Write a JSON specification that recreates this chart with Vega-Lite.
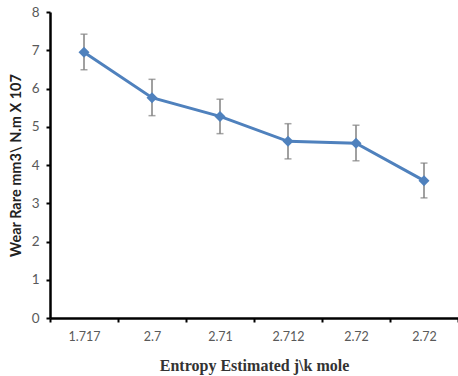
{
  "$schema": "https://vega.github.io/schema/vega-lite/v6.json",
  "autosize": {"type": "none"},
  "padding": {"left": 50, "top": 12, "right": 0, "bottom": 58},
  "width": 408,
  "height": 306,
  "background": "white",
  "config": {"view": {"stroke": null}},
  "data": {"values": [
    {"idx": 0, "entropy": "1.717", "wear": 6.95, "lo": 6.49, "hi": 7.42},
    {"idx": 1, "entropy": "2.7", "wear": 5.76, "lo": 5.29, "hi": 6.24},
    {"idx": 2, "entropy": "2.71", "wear": 5.27, "lo": 4.82, "hi": 5.72},
    {"idx": 3, "entropy": "2.712", "wear": 4.62, "lo": 4.16, "hi": 5.08},
    {"idx": 4, "entropy": "2.72", "wear": 4.57, "lo": 4.11, "hi": 5.04},
    {"idx": 5, "entropy": "2.72", "wear": 3.59, "lo": 3.14, "hi": 4.05}
  ]},
  "encoding": {
    "x": {
      "field": "idx", "type": "ordinal", "bandPosition": 0.5,
      "scale": {"type": "band", "paddingInner": 0, "paddingOuter": 0},
      "axis": {
        "title": "Entropy Estimated j\\k mole",
        "labelExpr": "['1.717','2.7','2.71','2.712','2.72','2.72'][datum.value]",
        "labelAngle": 0,
        "labelFont": "Lato", "labelFontSize": 12.5, "labelColor": "#595959",
        "labelPadding": 8,
        "tickBand": "extent", "tickColor": "black", "tickSize": 4, "tickWidth": 2,
        "domainColor": "black", "domainWidth": 2.5,
        "titleFont": "Liberation Serif", "titleFontWeight": "bold", "titleFontSize": 16, "titleColor": "#333333",
        "titlePadding": 15
      }
    },
    "y": {
      "field": "wear", "type": "quantitative",
      "scale": {"domain": [0, 8], "nice": false},
      "axis": {
        "title": "Wear Rare mm3\\ N.m X 107",
        "values": [0, 1, 2, 3, 4, 5, 6, 7, 8],
        "grid": false,
        "labelFont": "Lato", "labelFontSize": 13.5, "labelColor": "#595959",
        "labelPadding": 7,
        "tickColor": "black", "tickSize": 4, "tickWidth": 2,
        "domainColor": "black", "domainWidth": 2.5,
        "titleFont": "Lato", "titleFontWeight": "bold", "titleFontSize": 14.5, "titleColor": "#222222",
        "titlePadding": 8
      }
    }
  },
  "layer": [
    {
      "mark": {"type": "rule", "color": "#808080", "strokeWidth": 1.5},
      "encoding": {"y": {"field": "lo", "type": "quantitative"}, "y2": {"field": "hi"}}
    },
    {
      "mark": {"type": "tick", "color": "#808080", "thickness": 1.5, "size": 7, "orient": "horizontal"},
      "encoding": {"y": {"field": "hi", "type": "quantitative"}}
    },
    {
      "mark": {"type": "tick", "color": "#808080", "thickness": 1.5, "size": 7, "orient": "horizontal"},
      "encoding": {"y": {"field": "lo", "type": "quantitative"}}
    },
    {
      "mark": {"type": "line", "color": "#4F81BD", "strokeWidth": 3}
    },
    {
      "mark": {"type": "point", "shape": "diamond", "filled": true, "color": "#4F81BD", "size": 120, "opacity": 1}
    }
  ]
}
